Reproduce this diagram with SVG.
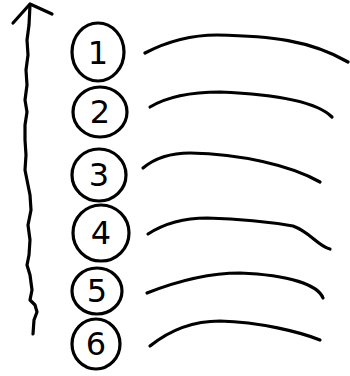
<svg xmlns="http://www.w3.org/2000/svg" width="350" height="376" viewBox="0 0 350 376">
<style>
.s{fill:none;stroke:#000;stroke-width:3.2;stroke-linecap:round;stroke-linejoin:round}
.t{font-family:"DejaVu Sans",sans-serif;font-size:32px;fill:#000;text-anchor:middle;dominant-baseline:central}
</style>
<rect width="350" height="376" fill="#fff"/>
<g id="axis">
<path class="s" d="M30,5 L29,25 L27,40 L28,55 L26,70 L27,85 L25,100 L27,112 L25,125 L25,140 L26,155 L25,170 L28,185 L30,195 L31,210 L28,225 L30,240 L29,255 L27,265 L30,275 L32,290 L30,300 L35,305 L37,312 L34,320 L33,334"/>
<path class="s" d="M13,23 L30,4 L52,14"/>
</g>
<g id="n1"><ellipse class="s" cx="98" cy="52" rx="26" ry="29"/><text class="t" x="98" y="53">1</text></g>
<g id="n2"><ellipse class="s" cx="100" cy="112" rx="27" ry="25"/><text class="t" x="100" y="112">2</text></g>
<g id="n3"><ellipse class="s" cx="99" cy="175" rx="27" ry="26"/><text class="t" x="99" y="175">3</text></g>
<g id="n4"><ellipse class="s" cx="101" cy="233" rx="28" ry="28"/><text class="t" x="101" y="233">4</text></g>
<g id="n5"><ellipse class="s" cx="97" cy="291" rx="25" ry="23"/><text class="t" x="97" y="291">5</text></g>
<g id="n6"><ellipse class="s" cx="96" cy="344" rx="24" ry="25"/><text class="t" x="96" y="344">6</text></g>
<g id="lines">
<path class="s" d="M145,53 C170,40 195,35 217,35 C270,36 310,40 348,62"/>
<path class="s" d="M150,107 C170,95 195,92 220,92 C270,94 315,100 332,117"/>
<path class="s" d="M143,168 C155,158 170,153 190,153 C240,154 290,165 320,182"/>
<path class="s" d="M148,234 C165,223 185,218 207,218 C240,219 270,222 293,226 C310,232 318,246 330,249"/>
<path class="s" d="M147,293 C180,280 210,273 240,273 C290,275 318,285 323,298"/>
<path class="s" d="M150,346 C170,330 195,321 220,321 C260,322 300,332 320,340"/>
</g>
</svg>
